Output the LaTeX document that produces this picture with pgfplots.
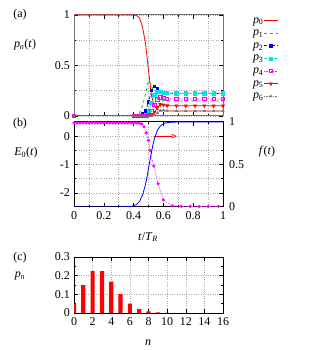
\documentclass[border=0pt]{standalone}
\usepackage{fontspec}
\setmainfont{Liberation Serif}
\usepackage{pgfplots}
\pgfplotsset{compat=1.18}
\usetikzlibrary{arrows.meta}
\definecolor{pgreen}{RGB}{0,200,0}
\definecolor{pcyan}{RGB}{0,230,230}
\definecolor{pmag}{RGB}{255,0,255}
\definecolor{pgray}{RGB}{120,120,120}
\pgfplotsset{
  myax/.style={
    scale only axis,
    /pgf/number format/assume math mode=true,
    tick align=inside, major tick length=4bp, minor tick length=2bp,
    tick style={black, line width=0.5pt},
    grid style={dotted, gray!65, line width=0.5pt},
    minor grid style={dotted, gray!65, line width=0.5pt},
    tick label style={font=\fontsize{12}{14}\selectfont},
    axis line style={black, line width=1bp},
    every axis plot/.append style={line width=0.8bp},
  },
}
\begin{document}
\fontsize{12}{14}\selectfont
\pgfplotstableread{
t      p0     p1     p2     p3     p4     p5     p6
0      1      0      0      0      0      0      0
0.40   1.0    0      0      0      0      0      0
0.42   0.995  0.005  0      0      0      0      0
0.44   0.97   0.03   0.003  0      0      0      0
0.46   0.88   0.10   0.02   0.003  0      0      0
0.48   0.72   0.22   0.05   0.01   0.003  0      0
0.50   0.45   0.35   0.14   0.045  0.012  0.003  0
0.52   0.20   0.31   0.25   0.13   0.045  0.012  0.003
0.54   0.10   0.21   0.29   0.21   0.11   0.04   0.012
0.56   0.065  0.17   0.27   0.24   0.165  0.085  0.03
0.58   0.055  0.155  0.245  0.24   0.185  0.115  0.052
0.60   0.051  0.150  0.23   0.232  0.178  0.11   0.058
0.625  0.050  0.149  0.225  0.226  0.170  0.103  0.053
0.6875 0.0498 0.149  0.224  0.224  0.168  0.101  0.050
0.75   0.0498 0.149  0.224  0.224  0.168  0.101  0.050
0.8125 0.0498 0.149  0.224  0.224  0.168  0.101  0.050
0.875  0.0498 0.149  0.224  0.224  0.168  0.101  0.050
0.9375 0.0498 0.149  0.224  0.224  0.168  0.101  0.050
1.0    0.0498 0.149  0.224  0.224  0.168  0.101  0.050
}\ptab
\pgfplotstableread{
t     E
0     0.47
0.02  0.47
0.04  0.47
0.06  0.47
0.08  0.47
0.10  0.47
0.12  0.47
0.14  0.47
0.16  0.47
0.18  0.47
0.20  0.47
0.22  0.47
0.24  0.47
0.26  0.47
0.28  0.47
0.30  0.47
0.32  0.47
0.34  0.47
0.36  0.47
0.38  0.47
0.40  0.47
0.42  0.468
0.44  0.46
0.455 0.43
0.47  0.33
0.485 0.12
0.50  -0.15
0.51  -0.5
0.535 -1.05
0.565 -1.68
0.60  -2.25
0.66  -2.46
0.72  -2.48
0.78  -2.48
0.84  -2.48
0.90  -2.48
0.97  -2.48
}\etab
\pgfplotstableread{
t     f
0     0
0.30  0.0003
0.35  0.002
0.38  0.006
0.40  0.014
0.42  0.031
0.44  0.067
0.46  0.139
0.48  0.267
0.49  0.353
0.50  0.450
0.51  0.550
0.52  0.647
0.53  0.733
0.54  0.805
0.56  0.903
0.58  0.954
0.60  0.979
0.62  0.991
0.65  0.997
0.70  1.0
1.0   1.0
}\ftab
\pgfplotstableread{
n  p
0  0.0498
1  0.1494
2  0.2240
3  0.2240
4  0.1680
5  0.1008
6  0.0504
7  0.0216
8  0.0081
9  0.0027
10 0.0008
}\ctab
\begin{tikzpicture}
\path[use as bounding box] (0bp,0bp) rectangle (313bp,350bp);
% panel (a)
\begin{axis}[myax, at={(74bp,234bp)}, anchor=south west, width=149bp, height=101bp,
  xmin=0, xmax=1, ymin=0, ymax=1,
  xtick={0,0.2,0.4,0.6,0.8,1}, minor x tick num=1, xticklabels={},
  ytick={0,0.5,1}, minor y tick num=1,
  xminorgrids, ymajorgrids, yminorgrids,
  axis line style={black!55, line width=1bp},
  legend plot pos=right,
  legend style={at={(axis description cs:1.2,1.0)}, anchor=north west,
    draw=none, fill=none, font=\fontsize{12}{12}\selectfont,
    row sep=1.6bp, inner sep=0pt,
    nodes={inner sep=0pt, text height=8bp, text depth=3bp}},
  legend cell align=right,
  legend image code/.code={\draw[mark repeat=2,mark phase=2,#1] plot coordinates {(0bp,0bp) (7bp,0bp) (14bp,0bp)};},
]
\addplot[red, solid] table[x=t,y=p0] {\ptab};
\addlegendentry{\textit{p}\textsubscript{0}}
\addplot[pgreen, dashed] table[x=t,y=p1] {\ptab};
\addlegendentry{\textit{p}\textsubscript{1}}
\addplot[blue, dashdotted, mark=square*, mark size=1.1pt, mark options={solid}] table[x=t,y=p2] {\ptab};
\addlegendentry{\textit{p}\textsubscript{2}}
\addplot[pcyan, densely dashed, mark=square*, mark size=1.6pt, mark options={solid}] table[x=t,y=p3] {\ptab};
\addlegendentry{\textit{p}\textsubscript{3}}
\addplot[pmag, densely dotted, mark=square, mark size=1.6pt, mark options={solid}] table[x=t,y=p4] {\ptab};
\addlegendentry{\textit{p}\textsubscript{4}}
\addplot[red, solid, mark=triangle*, mark size=1.6pt, mark options={rotate=180}] table[x=t,y=p5] {\ptab};
\addlegendentry{\textit{p}\textsubscript{5}}
\addplot[pgray, densely dotted, mark=triangle*, mark size=1.1pt, mark options={solid}] table[x=t,y=p6] {\ptab};
\addlegendentry{\textit{p}\textsubscript{6}}
\end{axis}
% panel (b) left axis
\begin{axis}[myax, at={(74bp,143bp)}, anchor=south west, width=149bp, height=85bp,
  xmin=0, xmax=1, ymin=-2.5, ymax=0.5,
  xtick={0,0.2,0.4,0.6,0.8,1}, minor x tick num=1,
  xticklabels={0,0.2,0.4,0.6,0.8,1},
  ytick={-2,-1,0}, minor y tick num=1,
  xminorgrids, ymajorgrids, yminorgrids,
]
\addplot[pmag!80, densely dotted, mark=*, mark size=1.2pt, mark options={solid, fill=pmag, draw=pmag}] table[x=t,y=E] {\etab};
\addplot[red, line width=0.6bp, -{Triangle[open,length=5bp,width=4.5bp]}] coordinates {(0.54,0) (0.69,0)};
\end{axis}
% panel (b) right axis
\begin{axis}[myax, at={(74bp,143bp)}, anchor=south west, width=149bp, height=85bp,
  xmin=0, xmax=1, ymin=0, ymax=1,
  axis y line*=right, axis x line=none,
  ytick={0,0.5,1}, major tick length=0pt,
  yticklabel style={xshift=2bp},
]
\addplot[blue, solid] table[x=t,y=f] {\ftab};
\end{axis}
% panel (c)
\begin{axis}[myax, at={(74bp,37bp)}, anchor=south west, width=149bp, height=56bp,
  xmin=0, xmax=16, ymin=0, ymax=0.3,
  xtick={0,2,4,6,8,10,12,14,16},
  ytick={0,0.1,0.2,0.3}, minor y tick num=1,
  xmajorgrids, ymajorgrids,
  yticklabel style={/pgf/number format/fixed, /pgf/number format/precision=1},
]
\addplot[ybar, bar width=4.2bp, fill=red, draw=none] table[x=n,y=p] {\ctab};
\end{axis}
% labels
\node at (20bp,335bp) {(a)};
\node at (25bp,305bp) {\textit{p}\textsubscript{\textit{n}}(\textit{t})};
\node at (20bp,226bp) {(b)};
\node at (26bp,197bp) {\textit{E}\textsubscript{0}(\textit{t})};
\node at (267bp,198bp) {\textit{f}(\textit{t})};
\node at (148bp,113bp) {\textit{t}/\textit{T}\textsubscript{\textit{R}}};
\node at (20bp,92bp) {(c)};
\node at (20bp,74bp) {\textit{p}\textsubscript{\textit{n}}};
\node at (148bp,7bp) {\textit{n}};
\end{tikzpicture}
\end{document}
